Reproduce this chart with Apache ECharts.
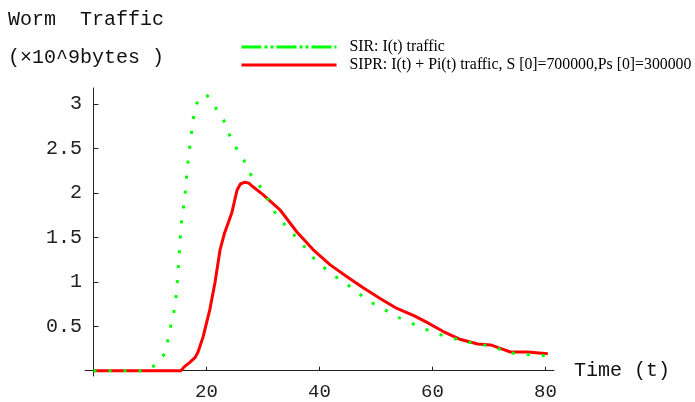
<!DOCTYPE html>
<html>
<head>
<meta charset="utf-8">
<script src="https://cdn.jsdelivr.net/npm/echarts@6/dist/echarts.min.js"></script>
<style>
  html, body { margin: 0; padding: 0; background: #fff; }
  #chart { width: 695px; height: 402px; }
</style>
</head>
<body>
<div id="chart"></div>
<script>
// SIR model: infected traffic I(t)
const sirTime = [0, 9.5, 11, 12.6, 13.1, 13.7, 14.2, 14.6, 14.9, 15.2, 15.6, 16.2, 16.5, 16.9, 17.4, 17.8, 18.5, 19.3, 20.2, 21.8, 23.1, 24, 25.4, 26.6, 27.8, 29.5, 30.7, 32, 33.6, 35.3, 36.9, 38.7, 40.6, 42.8, 44.9, 46.9, 48.8, 50.9, 53.6, 56, 58, 60.3, 63, 65.5, 68.1, 70.8, 73.5, 75.6, 78.4, 80];
const sirValue = [0, 0, 0.07, 0.19, 0.33, 0.51, 0.65, 0.82, 1.05, 1.35, 1.70, 1.97, 2.20, 2.45, 2.70, 2.90, 3.05, 3.10, 3.09, 2.94, 2.81, 2.66, 2.49, 2.37, 2.21, 2.07, 1.95, 1.79, 1.66, 1.54, 1.43, 1.28, 1.17, 1.06, 0.97, 0.87, 0.78, 0.71, 0.61, 0.54, 0.49, 0.42, 0.38, 0.33, 0.30, 0.27, 0.20, 0.19, 0.17, 0.17];

// SIPR model: I(t) + Pi(t) traffic
const siprTime = [0, 15.5, 16, 17, 18, 18.5, 19.4, 20.6, 21.5, 22.4, 23.2, 24.5, 25.4, 26, 26.8, 27.5, 28, 30, 33, 36, 38.9, 41.9, 44.8, 47.8, 50.8, 53.7, 56.7, 59.1, 61.9, 65, 68, 70.3, 72, 73.8, 76.8, 80.4];
const siprValue = [0, 0, 0.04, 0.09, 0.15, 0.21, 0.38, 0.69, 0.99, 1.36, 1.55, 1.78, 2.03, 2.10, 2.12, 2.11, 2.08, 1.98, 1.81, 1.56, 1.36, 1.19, 1.06, 0.93, 0.81, 0.70, 0.62, 0.54, 0.44, 0.35, 0.30, 0.29, 0.25, 0.21, 0.21, 0.19];

const xTicks = [20, 40, 60, 80];
const yTicks = [0.5, 1, 1.5, 2, 2.5, 3];

const sirName = 'SIR: I(t) traffic';
const siprName = 'SIPR: I(t) + Pi(t) traffic, S [0]=700000,Ps [0]=300000';

const zip = (xs, ys) => xs.map((x, i) => [x, ys[i]]);

const mono = 'Liberation Mono';
const hiddenSymbol = { opacity: 0, borderWidth: 0 };
const chart = echarts.init(document.getElementById('chart'), null, { renderer: 'canvas' });

chart.setOption({
  animation: false,
  backgroundColor: '#fff',
  title: {
    text: 'Worm  Traffic\n(×10^9bytes )',
    left: 8,
    top: 1,
    padding: 0,
    textStyle: { fontFamily: mono, fontSize: 20, fontWeight: 'normal', color: '#111', lineHeight: 38 }
  },
  legend: {
    orient: 'vertical',
    left: 240,
    top: 39,
    padding: 0,
    itemWidth: 95,
    itemHeight: 14,
    itemGap: 2,
    textStyle: { fontFamily: 'Liberation Serif', fontSize: 15.8, color: '#000', padding: [2, 0, 0, 8] },
    data: [
      { name: sirName, itemStyle: hiddenSymbol, lineStyle: { color: '#00ff00', width: 3, type: [20, 3, 3, 3, 3, 3], cap: 'butt' } },
      { name: siprName, itemStyle: hiddenSymbol, lineStyle: { color: '#ff0000', width: 3 } }
    ]
  },
  grid: { left: 85, top: 88, width: 469, height: 288, containLabel: false },
  xAxis: {
    type: 'value',
    min: -1.5,
    max: 81.5,
    name: 'Time (t)',
    nameLocation: 'end',
    nameGap: 20,
    nameTextStyle: { fontFamily: mono, fontSize: 20, color: '#111' },
    axisLine: { onZero: true, lineStyle: { color: '#222', width: 1 } },
    axisTick: { show: true, inside: true, length: 4, customValues: xTicks, lineStyle: { color: '#222' } },
    axisLabel: { customValues: xTicks, fontFamily: mono, fontSize: 19, color: '#222', margin: 6 },
    splitLine: { show: false }
  },
  yAxis: {
    type: 'value',
    min: -0.06,
    max: 3.18,
    axisLine: { show: true, onZero: true, lineStyle: { color: '#222', width: 1 } },
    axisTick: { show: true, inside: true, length: 5, customValues: [0].concat(yTicks), lineStyle: { color: '#222' } },
    axisLabel: { customValues: yTicks, fontFamily: mono, fontSize: 20, color: '#222', margin: 3 },
    splitLine: { show: false }
  },
  series: [
    {
      name: siprName,
      type: 'line',
      data: zip(siprTime, siprValue),
      symbol: 'none',
      smooth: false,
      lineStyle: { color: '#ff0000', width: 3 },
      itemStyle: { color: '#ff0000' },
      z: 2
    },
    {
      name: sirName,
      type: 'line',
      data: zip(sirTime, sirValue),
      symbol: 'none',
      smooth: false,
      lineStyle: { color: '#00ff00', width: 3, type: [3, 12], cap: 'butt' },
      itemStyle: { color: '#00ff00' },
      z: 3
    }
  ]
});
</script>
</body>
</html>
